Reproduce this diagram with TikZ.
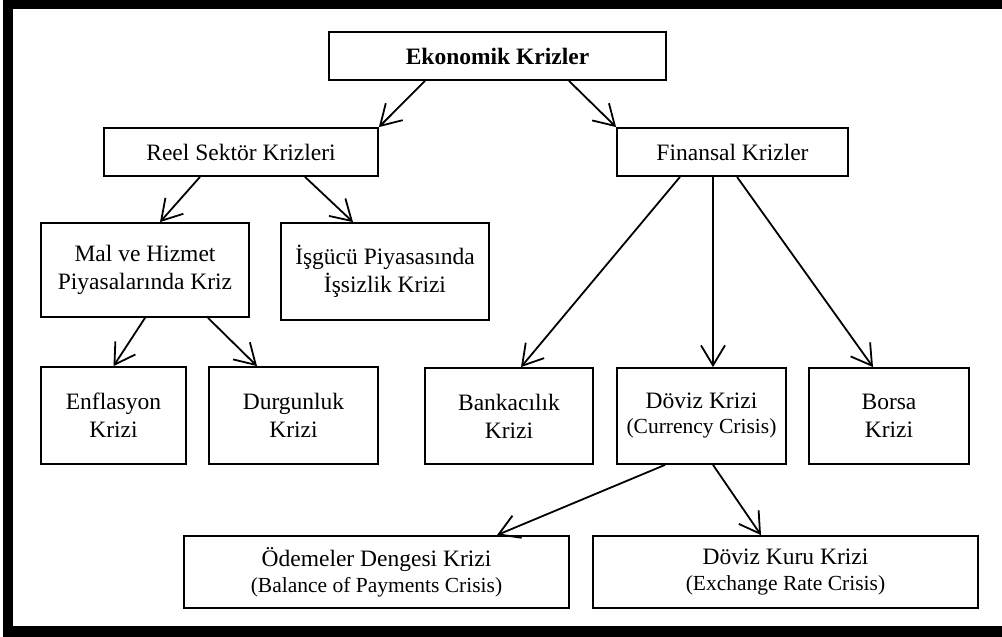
\documentclass[tikz,border=0pt]{standalone}
\usepackage{fontspec}
\setmainfont{Liberation Serif}
\usetikzlibrary{arrows.meta}

\tikzset{
  kutu/.style={draw, line width=1.8pt, align=center, inner sep=0pt,
    font=\fontsize{23.5}{28}\selectfont},
  ok/.style={line width=1.8pt, -{Straight Barb[length=20pt,width=24pt]}},
}
\newcommand{\ingilizce}[1]{{\fontsize{21.5}{25}\selectfont #1}}

\begin{document}
\begin{tikzpicture}[x=1pt, y=-1pt]
    \useasboundingbox (0,0) rectangle (1002,637);
    \fill [black] (3,0) rectangle (1002,637);
    \fill [white] (13,9) rectangle (1002,626);

    \node[kutu, minimum width=337pt, minimum height=48pt] (ek) at (497.5,56) {\textbf{Ekonomik Krizler}};
    \node[kutu, minimum width=274pt, minimum height=48pt] (reel) at (241,152) {Reel Sektör Krizleri};
    \node[kutu, minimum width=231pt, minimum height=48pt] (fin) at (732.5,152) {Finansal Krizler};

    \node[kutu, minimum width=208pt, minimum height=94pt] (mal) at (145,270) {Mal ve Hizmet\\Piyasalarında Kriz};
    \node[kutu, minimum width=208pt, minimum height=97pt] (isgucu) at (385,271.5) {İşgücü Piyasasında\\İşsizlik Krizi};

    \node[kutu, minimum width=145pt, minimum height=97pt] (enf) at (113.5,415.5) {Enflasyon\\Krizi};
    \node[kutu, minimum width=169pt, minimum height=97pt] (durg) at (293.5,415.5) {Durgunluk\\Krizi};
    \node[kutu, minimum width=168pt, minimum height=96pt] (bank) at (509,416) {Bankacılık\\Krizi};
    \node[kutu, minimum width=169pt, minimum height=96pt] (doviz) at (701.5,416) {Döviz Krizi\\[-3pt]\ingilizce{(Currency Crisis)}};
    \node[kutu, minimum width=160pt, minimum height=96pt] (borsa) at (889,416) {Borsa\\Krizi};

    \node[kutu, minimum width=385pt, minimum height=72pt] (odeme) at (376.5,572) {Ödemeler Dengesi Krizi\\[-2pt]\ingilizce{(Balance of Payments Crisis)}};
    \node[kutu, minimum width=385pt, minimum height=72pt] (kur) at (785.5,572) {Döviz Kuru Krizi\\[-2pt]\ingilizce{(Exchange Rate Crisis)}};

    % oklar
    \draw[ok] ([xshift=-72.5pt]ek.south) -- (reel.north east);
    \draw[ok] ([xshift=71.5pt]ek.south) -- (fin.north west);
    \draw[ok] ([xshift=-41pt]reel.south) -- ([xshift=15pt]mal.north);
    \draw[ok] ([xshift=64pt]reel.south) -- ([xshift=-32pt]isgucu.north);
    \draw[ok] (mal.south) -- (enf.north);
    \draw[ok] ([xshift=63pt]mal.south) -- ([xshift=-36.5pt]durg.north);
    \draw[ok] ([xshift=-52.5pt]fin.south) -- ([xshift=12pt]bank.north);
    \draw[ok] ([xshift=-19.5pt]fin.south) -- ([xshift=11.5pt]doviz.north);
    \draw[ok] ([xshift=4.5pt]fin.south) -- ([xshift=-16pt]borsa.north);
    \draw[ok] ([xshift=-36.5pt]doviz.south) -- ([xshift=120.5pt]odeme.north);
    \draw[ok] ([xshift=11.5pt]doviz.south) -- ([xshift=-24.5pt]kur.north);
\end{tikzpicture}
\end{document}
